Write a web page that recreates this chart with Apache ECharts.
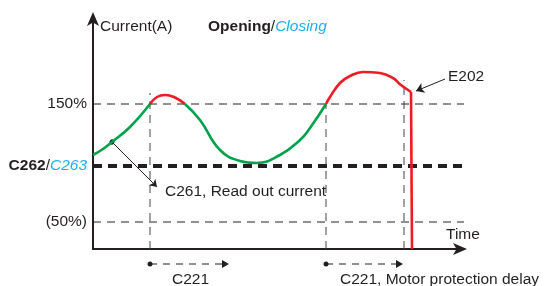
<!DOCTYPE html>
<html>
<head>
<meta charset="utf-8">
<script src="https://cdn.jsdelivr.net/npm/echarts@6/dist/echarts.min.js"></script>
<style>
  html, body { margin: 0; padding: 0; background: #fff; }
  #main { width: 544px; height: 286px; }
</style>
</head>
<body>
<div id="main"></div>
<script>
// curve pieces (time, current) in schematic units
var rise1 = [[0, 94], [10, 100], [19, 107], [37, 122], [57, 145]];
var peak1 = [[57, 145], [64, 152], [72, 154], [81, 152], [92, 145]];
var dip = [[92, 145], [107, 129], [127, 99], [147, 88], [164, 86], [187, 94], [207, 109], [217, 121], [233, 145]];
var peak2 = [[233, 145], [237, 152], [247, 166], [257, 173], [270, 177], [287, 176], [300, 171], [308, 164], [318, 157]];
var cutoff = [[318, 157], [319, 0]];

var levelValues = [145, 83, 27];
var levelLabels = ['150%', '{b|C262}/{i|C263}', '(50%)'];
var markerTimes = [57, 233, 311];
var markerTops = [156, 145, 169];
var delaySpans = [[57, 136], [233, 310]];
var delayLabels = ['C221', 'C221, Motor protection delay'];

var GREEN = '#00a14b', RED = '#ed1c24', BLUE = '#1cb0ec', INK = '#231f20';
var FONT = 'Liberation Sans, Arial, sans-serif';
var FS = 15.5;

var myChart = echarts.init(document.getElementById('main'));

function curve(data, color) {
    return {
        type: 'line', data: data, smooth: 0.45, symbol: 'none', z: 5,
        lineStyle: { color: color, width: 2.6 }, animation: false
    };
}

var series = [];
// level lines
levelValues.forEach(function (v, i) {
    var thick = i === 1;
    series.push({
        type: 'line', symbol: 'none', animation: false, z: 2,
        data: [[0, v], [374, v]],
        lineStyle: { color: INK, width: thick ? 4 : 1, type: thick ? [9, 6] : [8, 6] }
    });
});
// vertical time markers
markerTimes.forEach(function (t, i) {
    series.push({
        type: 'line', symbol: 'none', animation: false, z: 2,
        data: [[t, 0], [t, markerTops[i]]],
        lineStyle: { color: '#444', width: 1, type: [8, 6] }
    });
});
series.push(curve(rise1, GREEN));
series.push(curve(peak1, RED));
series.push(curve(dip, GREEN));
series.push(curve(peak2, RED));
series.push({
    type: 'line', data: cutoff, symbol: 'none', z: 5, animation: false,
    lineStyle: { color: RED, width: 2.6 },
    markLine: {
        silent: true, animation: false,
        label: { show: false },
        data: [
            [{ coord: [19, 107], symbol: 'circle', symbolSize: 5 }, { coord: [64, 62], symbol: 'arrow', symbolSize: 7 }],
            [{ coord: [352, 170], symbol: 'none' }, { coord: [323, 158], symbol: 'arrow', symbolSize: 8 }]
        ],
        lineStyle: { color: INK, width: 1, type: 'solid' }
    }
});

myChart.setOption({
    animation: false,
    grid: { left: 93, top: 18, width: 370, height: 231 },
    xAxis: {
        type: 'value', min: 0, max: 370,
        axisLine: { lineStyle: { color: INK, width: 2 }, symbol: ['none', 'arrow'], symbolSize: [9, 14], symbolOffset: [0, 4] },
        axisTick: { show: false }, axisLabel: { show: false }, splitLine: { show: false }
    },
    yAxis: {
        type: 'value', min: 0, max: 231,
        axisLine: { lineStyle: { color: INK, width: 2 }, symbol: ['none', 'arrow'], symbolSize: [9, 14], symbolOffset: [0, 6] },
        axisTick: { show: false }, axisLabel: { show: false }, splitLine: { show: false }
    },
    series: series
});

// annotations
var rich = {
    b: { fontFamily: FONT, fontSize: FS, fontWeight: 'bold', fill: INK },
    i: { fontFamily: FONT, fontSize: FS, fontStyle: 'italic', fill: BLUE }
};
var graphics = [];
function txt(x, y, text, align) {
    graphics.push({
        type: 'text', z: 10, x: x, y: y,
        style: { text: text, fill: INK, font: FS + 'px ' + FONT, align: align || 'left', verticalAlign: 'middle', rich: rich }
    });
}
levelValues.forEach(function (v, i) {
    var p = myChart.convertToPixel({ gridIndex: 0 }, [0, v]);
    txt(p[0] - 6, p[1], levelLabels[i], 'right');
});
txt(100, 27, 'Current(A)');
txt(208, 27, '{b|Opening}/{i|Closing}');
txt(448, 77, 'E202');
txt(165, 192, 'C261, Read out current');
txt(446, 235, 'Time');

var arrowY = 264;
delaySpans.forEach(function (span, i) {
    var a = myChart.convertToPixel({ gridIndex: 0 }, [span[0], 0]);
    var b = myChart.convertToPixel({ gridIndex: 0 }, [span[1], 0]);
    graphics.push({ type: 'line', shape: { x1: a[0], y1: arrowY, x2: b[0] - 6, y2: arrowY }, style: { stroke: INK, lineWidth: 1, lineDash: [7, 6] } });
    graphics.push({ type: 'circle', shape: { cx: a[0], cy: arrowY, r: 2.5 }, style: { fill: INK } });
    graphics.push({ type: 'polygon', shape: { points: [[b[0], arrowY], [b[0] - 7, arrowY - 4], [b[0] - 7, arrowY + 4]] }, style: { fill: INK } });
});
txt(172, 280, delayLabels[0]);
txt(340, 280, delayLabels[1]);

myChart.setOption({ graphic: graphics });
</script>
</body>
</html>
